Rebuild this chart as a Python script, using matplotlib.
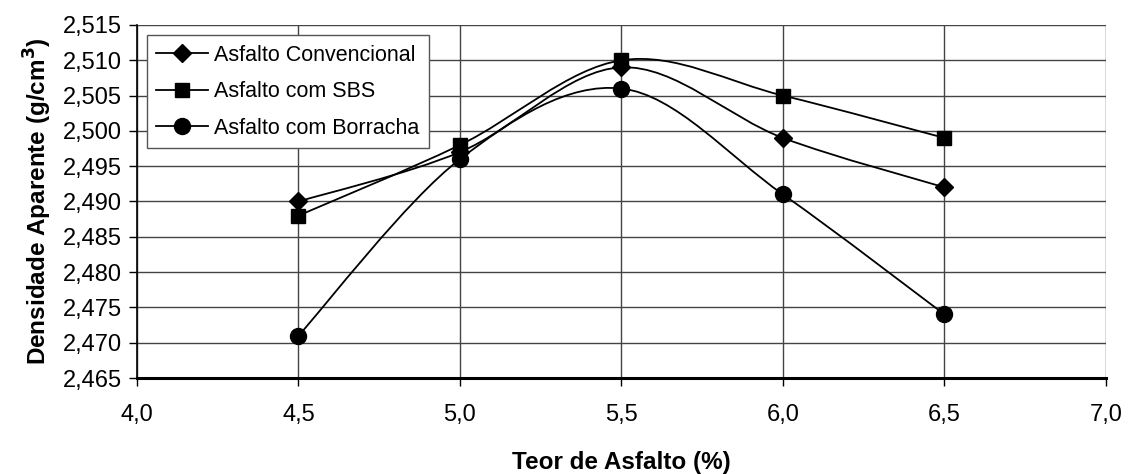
import matplotlib
matplotlib.use("Agg")
import matplotlib.pyplot as plt
from matplotlib.path import Path
from matplotlib.patches import PathPatch
from matplotlib.lines import Line2D
from matplotlib.ticker import FuncFormatter, MultipleLocator

plt.rcParams['font.family'] = ['Liberation Sans', 'DejaVu Sans']

teor = [4.5, 5.0, 5.5, 6.0, 6.5]
convencional = [2.490, 2.497, 2.509, 2.499, 2.492]
sbs = [2.488, 2.498, 2.510, 2.505, 2.499]
borracha = [2.471, 2.496, 2.506, 2.491, 2.474]
nomes = ['Asfalto Convencional', 'Asfalto com SBS', 'Asfalto com Borracha']
marcadores = ['D', 's', 'o']
tamanhos = [9.5, 9.5, 11.5]


def curva_suave(x, y):
    # linha suavizada estilo Excel (bezier pelos pontos)
    pts = list(zip(x, y))
    n = len(pts)
    verts = [pts[0]]
    codes = [Path.MOVETO]
    for i in range(n - 1):
        p0 = pts[i - 1] if i > 0 else pts[i]
        p1 = pts[i]
        p2 = pts[i + 1]
        p3 = pts[i + 2] if i + 2 < n else pts[i + 1]
        c1 = (p1[0] + (p2[0] - p0[0]) / 6, p1[1] + (p2[1] - p0[1]) / 6)
        c2 = (p2[0] - (p3[0] - p1[0]) / 6, p2[1] - (p3[1] - p1[1]) / 6)
        verts += [c1, c2, p2]
        codes += [Path.CURVE4] * 3
    return Path(verts, codes)


fig = plt.figure(figsize=(11.31, 4.74), dpi=100)
ax = fig.add_axes([0.1211, 0.2025, 0.8568, 0.7448])

handles = []
for serie, m, ms, nome in zip([convencional, sbs, borracha], marcadores, tamanhos, nomes):
    ax.add_patch(PathPatch(curva_suave(teor, serie), fill=False, edgecolor='black', lw=1.3, zorder=3))
    ax.plot(teor, serie, linestyle='none', marker=m, ms=ms, color='black', zorder=4)
    handles.append(Line2D([], [], color='black', lw=1.3, marker=m, ms=ms, label=nome))

ax.set_xlim(4.0, 7.0)
ax.set_ylim(2.465, 2.515)
ax.xaxis.set_major_locator(MultipleLocator(0.5))
ax.yaxis.set_major_locator(MultipleLocator(0.005))
ax.xaxis.set_major_formatter(FuncFormatter(lambda v, p: f"{v:.1f}".replace('.', ',')))
ax.yaxis.set_major_formatter(FuncFormatter(lambda v, p: f"{v:.3f}".replace('.', ',')))
ax.grid(True, color='#444444', lw=1.0)
ax.set_axisbelow(True)
for s in ['top', 'right']:
    ax.spines[s].set_visible(False)
ax.spines['left'].set_linewidth(1.2)
ax.spines['bottom'].set_linewidth(2.2)
ax.tick_params(direction='out', length=6, width=1, labelsize=17)
ax.tick_params(axis='x', pad=13)
ax.tick_params(axis='y', pad=5)

ax.set_xlabel('Teor de Asfalto (%)', fontsize=17.5, fontweight='bold', labelpad=18)
ax.set_ylabel('Densidade Aparente (g/cm$^\\mathbf{3}$)', fontsize=17.5, fontweight='bold', labelpad=6)

leg = ax.legend(handles=handles, loc='upper left', bbox_to_anchor=(0.01, 0.972), borderaxespad=0,
                fancybox=False, framealpha=1, edgecolor='#555555', fontsize=15.5,
                handlelength=2.4, labelspacing=0.72, handletextpad=0.3, borderpad=0.45)
leg.get_frame().set_linewidth(1.0)

fig.savefig('out.png', dpi=100)
